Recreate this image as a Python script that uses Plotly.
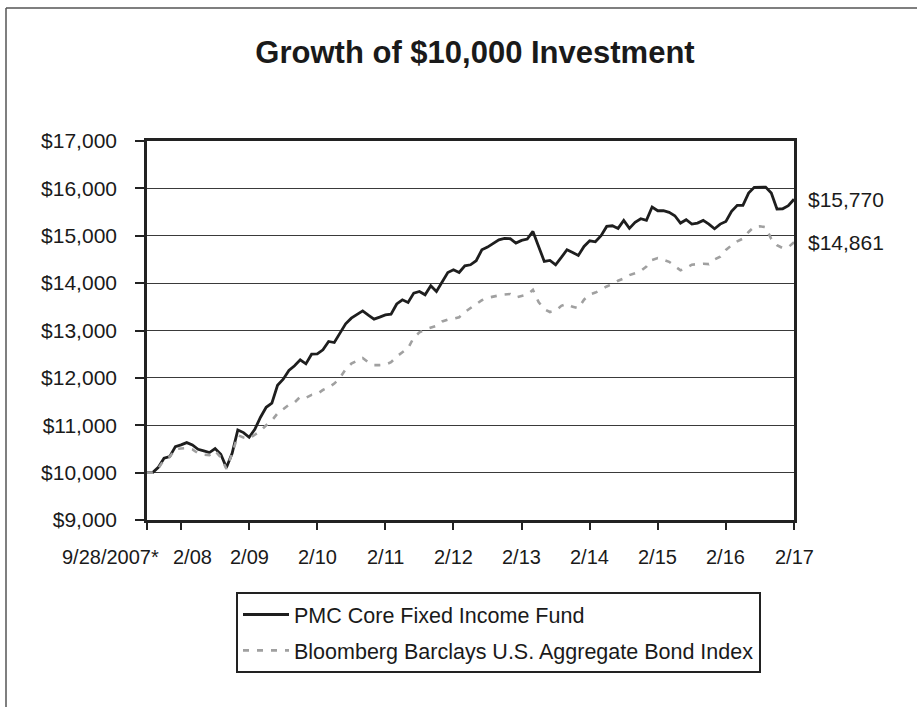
import plotly.graph_objects as go

# ---- data ----
fund = [10000, 10000, 10113, 10303, 10338, 10549, 10585, 10634, 10585, 10493,
        10458, 10423, 10507, 10387, 10106, 10408, 10901, 10845, 10746, 10915,
        11169, 11380, 11465, 11845, 11972, 12155, 12254, 12380, 12296, 12500,
        12507, 12592, 12768, 12746, 12944, 13141, 13261, 13331, 13415, 13324,
        13239, 13282, 13330, 13345, 13560, 13648, 13592, 13789, 13824, 13754,
        13944, 13824, 14014, 14225, 14282, 14225, 14366, 14387, 14472, 14704,
        14761, 14845, 14915, 14944, 14937, 14845, 14901, 14930, 15092, 14775,
        14458, 14479, 14387, 14542, 14704, 14648, 14585, 14775, 14894, 14873,
        15000, 15197, 15211, 15155, 15324, 15155, 15282, 15359, 15324, 15606,
        15528, 15528, 15493, 15423, 15268, 15338, 15246, 15268, 15324, 15246,
        15148, 15246, 15303, 15514, 15641, 15641, 15901, 16021, 16028, 16028,
        15901, 15563, 15570, 15634, 15770]

index = [10000, 10000, 10090, 10270, 10330, 10500, 10510, 10520, 10490, 10410,
         10380, 10370, 10460, 10320, 10080, 10400, 10790, 10740, 10720, 10800,
         10880, 11000, 11100, 11250, 11350, 11430, 11480, 11600, 11580, 11640,
         11660, 11745, 11800, 11880, 12000, 12180, 12300, 12360, 12420, 12330,
         12270, 12270, 12280, 12330, 12451, 12540, 12630, 12850, 12960, 13020,
         13060, 13100, 13190, 13230, 13250, 13280, 13390, 13480, 13560, 13640,
         13690, 13720, 13740, 13760, 13770, 13700, 13730, 13760, 13860, 13600,
         13450, 13390, 13420, 13520, 13560, 13500, 13470, 13650, 13760, 13800,
         13860, 13930, 13980, 14050, 14100, 14170, 14210, 14260, 14350, 14490,
         14530, 14490, 14450, 14360, 14270, 14320, 14390, 14400, 14410, 14400,
         14500, 14560, 14700, 14800, 14880, 14940, 15080, 15190, 15200, 15180,
         14930, 14800, 14740, 14760, 14861]

periods = list(range(len(fund)))  # monthly observation number (0 = 9/28/2007)

tick_periods = [0, 6, 18, 30, 42, 54, 66, 78, 90, 102, 114]
tick_labels = ["9/28/2007*", "2/08", "2/09", "2/10", "2/11", "2/12",
               "2/13", "2/14", "2/15", "2/16", "2/17"]

y_ticks = [9000, 10000, 11000, 12000, 13000, 14000, 15000, 16000, 17000]
y_tick_labels = ["$9,000", "$10,000", "$11,000", "$12,000", "$13,000",
                 "$14,000", "$15,000", "$16,000", "$17,000"]

series_names = ["PMC Core Fixed Income Fund",
                "Bloomberg Barclays U.S. Aggregate Bond Index"]
end_labels = ["$15,770", "$14,861"]

# ---- styling ----
FONT = "Arial, Liberation Sans, Helvetica, sans-serif"
W, H = 917, 707
ML, MR, MT, MB = 147, 123, 141, 187
PW, PH = W - ML - MR, H - MT - MB

def px_to_paper_x(px):
    return (px - ML) / PW

def px_to_paper_y(py):
    return (H - MB - py) / PH

fig = go.Figure()
fig.add_trace(go.Scatter(x=periods, y=fund, mode="lines", name=series_names[0],
                         line=dict(color="#1e1e1e", width=2.8),
                         legendgroup="a"))
fig.add_trace(go.Scatter(x=periods, y=index, mode="lines", name=series_names[1],
                         line=dict(color="#a0a0a0", width=2.6, dash="6px,8px"),
                         legendgroup="b"))

annotations = []
x_shifts = [-37, 11, 0, 0, 0, 0, 0, 0, 0, 0, 0]
for tp, tl, xs in zip(tick_periods, tick_labels, x_shifts):
    annotations.append(dict(x=tp, y=px_to_paper_y(557), xref="x", yref="paper",
                            text=tl, showarrow=False, xanchor="center",
                            yanchor="middle", xshift=xs,
                            font=dict(family=FONT, size=20, color="#1a1a1a")))

for val, lab in zip([fund[-1], index[-1]], end_labels):
    annotations.append(dict(x=periods[-1], y=val, xref="x", yref="y", text=lab,
                            showarrow=False, xanchor="left", yanchor="middle",
                            xshift=12,
                            font=dict(family=FONT, size=21, color="#1a1a1a")))

shapes = [
    dict(type="line", xref="paper", yref="paper",
         x0=px_to_paper_x(6), x1=px_to_paper_x(6),
         y0=px_to_paper_y(8), y1=px_to_paper_y(720),
         line=dict(color="#555555", width=1.5)),
    dict(type="line", xref="paper", yref="paper",
         x0=px_to_paper_x(6), x1=px_to_paper_x(930),
         y0=px_to_paper_y(8), y1=px_to_paper_y(8),
         line=dict(color="#555555", width=1.5)),
]

fig.update_layout(
    width=W, height=H,
    margin=dict(l=ML, r=MR, t=MT, b=MB, pad=0),
    paper_bgcolor="white", plot_bgcolor="white",
    font=dict(family=FONT, size=20, color="#1a1a1a"),
    title=dict(text="<b>Growth of $10,000 Investment</b>",
               x=475 / W, xref="container", xanchor="center",
               y=1 - 52 / H, yref="container", yanchor="middle",
               font=dict(family=FONT, size=31, color="#1a1a1a")),
    showlegend=True,
    legend=dict(x=px_to_paper_x(236), y=px_to_paper_y(592),
                xanchor="left", yanchor="top",
                bordercolor="#222222", borderwidth=2, bgcolor="white",
                font=dict(family=FONT, size=21.5, color="#1a1a1a"),
                itemwidth=46, tracegroupgap=5),
    annotations=annotations,
    shapes=shapes,
)

fig.update_xaxes(range=[0, periods[-1]], tickmode="array", tickvals=tick_periods,
                 showticklabels=False, ticks="outside", ticklen=7, tickwidth=2,
                 tickcolor="#222222", showgrid=False, zeroline=False,
                 showline=True, linecolor="#222222", linewidth=2.6, mirror=True)
fig.update_yaxes(range=[9000, 17000], tickmode="array", tickvals=y_ticks,
                 ticktext=y_tick_labels, ticks="outside", ticklen=9, tickwidth=2,
                 tickcolor="#222222", showgrid=True, gridcolor="#3a3a3a",
                 gridwidth=1.4, zeroline=False, showline=True,
                 linecolor="#222222", linewidth=2.6, mirror=True,
                 ticklabelstandoff=14,
                 tickfont=dict(family=FONT, size=21, color="#1a1a1a"))

fig.write_html("out.html")
